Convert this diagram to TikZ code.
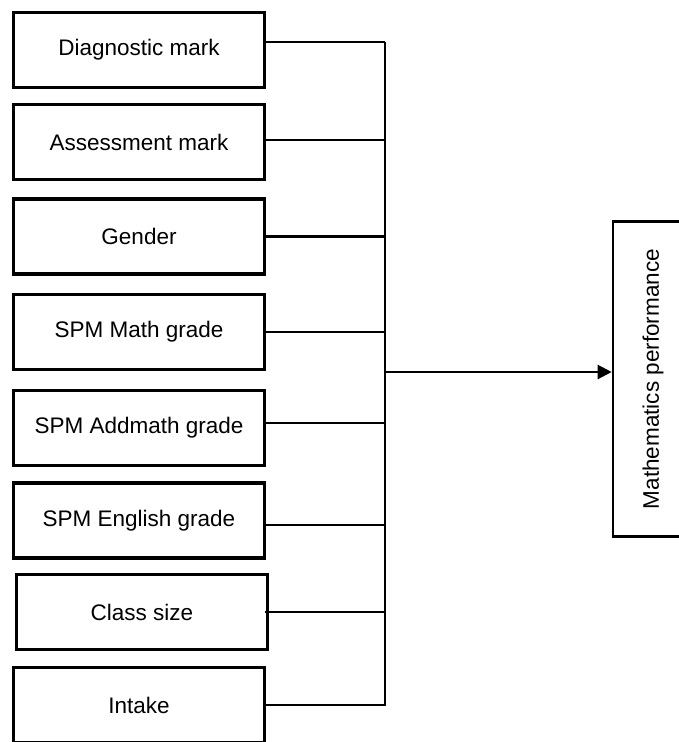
\documentclass[tikz,border=0pt]{standalone}
\usepackage{fontspec}
\setmainfont{Liberation Sans}
\usetikzlibrary{arrows.meta}

\tikzset{
  factor/.style = {draw = black, line width = 3.2pt, minimum width = 251pt, minimum height = 75pt, inner sep = 0pt, font = \fontsize{22.5}{26}\selectfont},
  link/.style = {line width = 2.2pt}
}

\begin{document}
\begin{tikzpicture}[x = 1pt, y = -1pt]
    \useasboundingbox (0,0) rectangle (679,742);
    \clip (0,0) rectangle (679,742);
%% the eight factors on the left
    \node[factor] (diag) at (139,50) {Diagnostic mark};
    \node[factor] (assess) at (139,142) {Assessment mark};
    \node[factor] (gender) at (139,236.5) {Gender};
    \node[factor] (spmmath) at (139,332) {SPM Math grade};
    \node[factor] (addmath) at (139,428) {SPM Addmath grade};
    \node[factor] (english) at (139,520.5) {SPM English grade};
    \node[factor] (csize) at (142,612) {Class size};
    \node[factor] (intake) at (139,705) {Intake};
%% the outcome, written upwards
    \node[draw = black, line width = 2.6pt, rotate = 90, minimum width = 315pt, minimum height = 80pt, font = \fontsize{22.5}{26}\selectfont] (perf) at (653,379) {Mathematics performance};
%% the bus joining them
    \coordinate (top) at (385,42);
    \coordinate (bottom) at (385,706);
    \coordinate (mid) at (385,372);
    \draw[link] (top) -- (bottom);
    \draw[link] ([yshift = 8pt]diag.east) -- ([yshift = 8pt]diag.east -| top);
    \draw[link] ([yshift = 2pt]assess.east) -- ([yshift = 2pt]assess.east -| top);
    \draw[link] (gender.east) -- (gender.east -| top);
    \draw[link] (spmmath.east) -- (spmmath.east -| top);
    \draw[link] ([yshift = 5pt]addmath.east) -- ([yshift = 5pt]addmath.east -| top);
    \draw[link] ([yshift = -4.5pt]english.east) -- ([yshift = -4.5pt]english.east -| top);
    \draw[link] ([xshift = -4pt]csize.east) -- (csize.east -| top);
    \draw[link] (intake.east) -- (intake.east -| top);
    \draw[link, -{Triangle[length = 14pt, width = 14pt]}] (mid) -- (mid -| perf.north);
\end{tikzpicture}
\end{document}
